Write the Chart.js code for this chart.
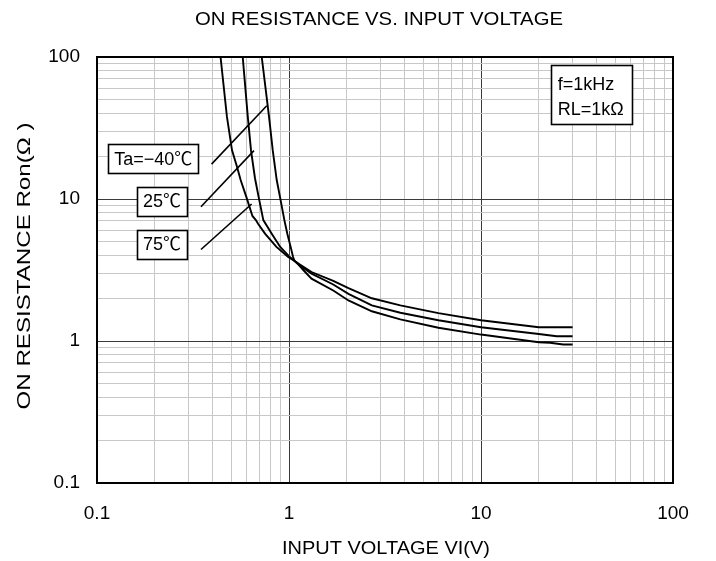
<!DOCTYPE html>
<html>
<head>
<meta charset="utf-8">
<script src="https://cdn.jsdelivr.net/npm/chart.js@4.4.1/dist/chart.umd.min.js"></script>
<style>
    html, body { margin: 0; padding: 0; background: #fff; }
</style>
</head>
<body>
<canvas id="ronChart" width="716" height="561"></canvas>
<script>
// Axis decades and labels (log-log chart, both axes 0.1 .. 100).
const decadeStarts = [0.1, 1, 10];
const axisMax = 100;
const tickValues = [0.1, 1, 10, 100];
const tickLabels = ["0.1", "1", "10", "100"];

// Ta = 75 degC
const vTa75 = [0.44, 0.475, 0.505, 0.535, 0.56, 0.60, 0.645, 0.672, 0.69, 0.75, 0.86, 0.99, 1.07, 1.14, 1.31, 1.7, 2.04, 2.7, 3.8, 6.0, 10, 20, 30];
const ronTa75 = [100, 38, 22, 17, 13.6, 10.3, 7.6, 7.1, 6.7, 5.7, 4.6, 3.9, 3.66, 3.45, 3.06, 2.65, 2.36, 2.0, 1.78, 1.57, 1.40, 1.25, 1.25];

// Ta = 25 degC
const vTa25 = [0.574, 0.61, 0.634, 0.665, 0.695, 0.735, 0.813, 0.90, 1.01, 1.07, 1.14, 1.31, 1.7, 2.04, 2.7, 3.8, 6.0, 10, 20, 24.8, 30];
const ronTa25 = [100, 38, 22, 14, 10.3, 7.1, 5.7, 4.6, 3.9, 3.66, 3.4, 2.98, 2.5, 2.15, 1.78, 1.58, 1.40, 1.25, 1.12, 1.08, 1.08];

// Ta = -40 degC
const vTaM40 = [0.721, 0.787, 0.823, 0.863, 0.898, 0.946, 0.98, 1.02, 1.05, 1.07, 1.12, 1.19, 1.31, 1.7, 2.04, 2.7, 3.8, 6.0, 10, 20, 22.9, 26.8, 30];
const ronTaM40 = [100, 38, 22, 13.6, 10.3, 7.1, 5.7, 4.6, 3.9, 3.66, 3.45, 3.15, 2.75, 2.27, 1.93, 1.62, 1.42, 1.24, 1.11, 0.98, 0.971, 0.945, 0.945];

const titleText = "ON RESISTANCE VS. INPUT VOLTAGE";
const xTitleText = "INPUT VOLTAGE VI(V)";
const yTitleText = "ON RESISTANCE Ron(\u03A9 )";

// Curve labels: text, box centre and leader line, all in data coordinates.
const curveLabels = [
    { text: "Ta=\u221240\u2103", at: [0.1964, 19.27], from: [0.395, 17.6], to: [0.766, 45.4] },
    { text: "25\u2103", at: [0.2181, 9.65], from: [0.348, 8.82], to: [0.657, 21.9] },
    { text: "75\u2103", at: [0.2181, 4.82], from: [0.348, 4.41], to: [0.639, 9.22] }
];
const conditionLines = ["f=1kHz", "RL=1k\u03A9"];
const conditionBox = { x0: 23.1, x1: 61.2, y0: 88.5, y1: 33.9 };

const fontFamily = "'Liberation Sans', Arial, 'Noto Sans CJK JP', sans-serif";

function toPoints(xs, ys) {
    return xs.map((x, i) => ({ x: x, y: ys[i] }));
}

function isDecade(v) {
    const l = Math.log10(v);
    return Math.abs(l - Math.round(l)) < 1e-6;
}

// 1..9 per decade, plus the top value.
function logGridTicks(axis) {
    const ticks = [];
    decadeStarts.forEach((d) => {
        for (let k = 1; k <= 9; k++) {
            const v = +(d * k).toPrecision(6);
            ticks.push({ value: v, major: k === 1 });
        }
    });
    ticks.push({ value: axisMax, major: true });
    axis.ticks = ticks;
}

function tickLabel(value) {
    const i = tickValues.findIndex((t) => Math.abs(t - value) / t < 1e-6);
    return i >= 0 ? tickLabels[i] : "";
}

function gridColor(ctx) {
    if (!ctx.tick) return "#c8c8c8";
    return isDecade(ctx.tick.value) ? "#3a3a3a" : "#c8c8c8";
}

// Draws text centred at (cx, cy), squeezed or stretched to the given width.
function drawFitText(ctx, text, cx, cy, width, size, rotate) {
    ctx.save();
    ctx.translate(cx, cy);
    if (rotate) ctx.rotate(-Math.PI / 2);
    ctx.font = size + "px " + fontFamily;
    const w = ctx.measureText(text).width;
    ctx.scale(width / w, 1);
    ctx.fillStyle = "#000";
    ctx.textAlign = "center";
    ctx.textBaseline = "middle";
    ctx.fillText(text, 0, 0);
    ctx.restore();
}

const decorPlugin = {
    id: "decor",
    afterDraw(chart) {
        const ctx = chart.ctx;
        const xs = chart.scales.x;
        const ys = chart.scales.y;
        const area = chart.chartArea;
        const px = (p) => [xs.getPixelForValue(p[0]), ys.getPixelForValue(p[1])];

        // plot frame
        ctx.save();
        ctx.strokeStyle = "#000";
        ctx.lineWidth = 2;
        ctx.strokeRect(area.left, area.top, area.right - area.left, area.bottom - area.top);
        ctx.restore();

        // titles
        drawFitText(ctx, titleText, 379, 20, 368, 18, false);
        drawFitText(ctx, xTitleText, 386, 549, 208, 18, false);
        drawFitText(ctx, yTitleText, 25, 266, 287, 18, true);

        // curve labels with boxes and leader lines
        ctx.save();
        ctx.font = "18px " + fontFamily;
        ctx.textAlign = "center";
        ctx.textBaseline = "middle";
        ctx.lineWidth = 1.6;
        ctx.strokeStyle = "#000";
        curveLabels.forEach((lab) => {
            const c = px(lab.at);
            const w = ctx.measureText(lab.text).width + 12;
            const h = 29;
            ctx.fillStyle = "#fff";
            ctx.fillRect(c[0] - w / 2, c[1] - h / 2, w, h);
            ctx.strokeRect(Math.round(c[0] - w / 2) + 0.5, Math.round(c[1] - h / 2) + 0.5, Math.round(w), h);
            ctx.fillStyle = "#000";
            ctx.fillText(lab.text, c[0], c[1] + 1);
            const a = px(lab.from);
            const b = px(lab.to);
            ctx.beginPath();
            ctx.moveTo(a[0], a[1]);
            ctx.lineTo(b[0], b[1]);
            ctx.stroke();
        });

        // test condition box
        const tl = px([conditionBox.x0, conditionBox.y0]);
        const br = px([conditionBox.x1, conditionBox.y1]);
        ctx.fillStyle = "#fff";
        ctx.fillRect(tl[0], tl[1], br[0] - tl[0], br[1] - tl[1]);
        ctx.strokeRect(Math.round(tl[0]) + 0.5, Math.round(tl[1]) + 0.5, Math.round(br[0] - tl[0]), Math.round(br[1] - tl[1]));
        ctx.fillStyle = "#000";
        ctx.textAlign = "left";
        conditionLines.forEach((line, i) => {
            ctx.fillText(line, tl[0] + 7, tl[1] + 20 + i * 25);
        });
        ctx.restore();
    }
};

const lineStyle = {
    showLine: true,
    borderColor: "#000",
    borderWidth: 1.9,
    pointRadius: 0,
    tension: 0,
    fill: false
};

new Chart(document.getElementById("ronChart").getContext("2d"), {
    type: "scatter",
    data: {
        datasets: [
            Object.assign({ label: "Ta=75\u2103", data: toPoints(vTa75, ronTa75) }, lineStyle),
            Object.assign({ label: "Ta=25\u2103", data: toPoints(vTa25, ronTa25) }, lineStyle),
            Object.assign({ label: "Ta=\u221240\u2103", data: toPoints(vTaM40, ronTaM40) }, lineStyle)
        ]
    },
    options: {
        responsive: false,
        animation: false,
        layout: { padding: { top: 57, right: 43, left: 0, bottom: 0 } },
        plugins: {
            legend: { display: false },
            tooltip: { enabled: false },
            title: { display: false }
        },
        scales: {
            x: {
                type: "logarithmic",
                min: 0.1,
                max: axisMax,
                afterBuildTicks: logGridTicks,
                afterFit: (s) => { s.height = 78; },
                border: { display: false },
                grid: { color: gridColor, lineWidth: 1, drawTicks: false },
                ticks: {
                    autoSkip: false,
                    maxRotation: 0,
                    padding: 19,
                    color: "#000",
                    font: { family: fontFamily, size: 19 },
                    callback: (v) => tickLabel(v)
                }
            },
            y: {
                type: "logarithmic",
                min: 0.1,
                max: axisMax,
                afterBuildTicks: logGridTicks,
                afterFit: (s) => { s.width = 97; },
                border: { display: false },
                grid: { color: gridColor, lineWidth: 1, drawTicks: false },
                ticks: {
                    autoSkip: false,
                    padding: 17,
                    color: "#000",
                    font: { family: fontFamily, size: 19 },
                    callback: (v) => tickLabel(v)
                }
            }
        }
    },
    plugins: [decorPlugin]
});
</script>
</body>
</html>
